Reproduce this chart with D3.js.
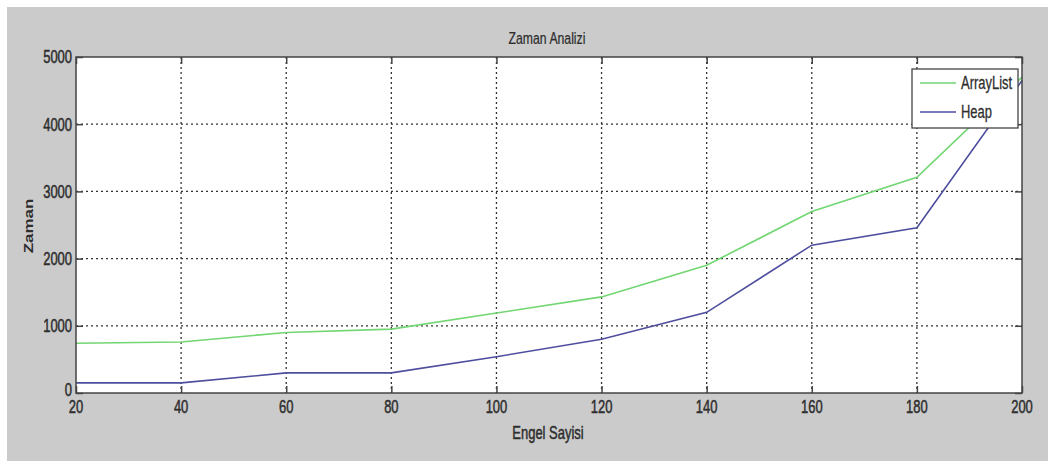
<!DOCTYPE html>
<html><head><meta charset="utf-8">
<script src="https://cdn.jsdelivr.net/npm/d3@7"></script>
<style>
html,body{margin:0;padding:0;background:#fff;}
svg{display:block;}
text{font-family:"Liberation Sans",Arial,sans-serif;fill:#2e2e2e;}
</style></head>
<body>
<svg id="chart" width="1048" height="461"></svg>
<script>
const xValues = [20, 40, 60, 80, 100, 120, 140, 160, 180, 200];
const arrayListValues = [740, 760, 900, 950, 1190, 1430, 1900, 2700, 3210, 4700];
const heapValues = [150, 150, 300, 300, 540, 800, 1200, 2200, 2460, 4650];
const xTicks = [20, 40, 60, 80, 100, 120, 140, 160, 180, 200];
const yTicks = [0, 1000, 2000, 3000, 4000, 5000];
const seriesNames = ["ArrayList", "Heap"];
const seriesColors = ["#72d672", "#4e4e9e"];
const titleText = "Zaman Analizi";
const xLabel = "Engel Sayisi";
const yLabel = "Zaman";

const svg = d3.select("#chart");
const W = 1048, H = 461;
const m = {left: 76, top: 57, right: 1022, bottom: 393};
const SX = 0.72;

svg.append("rect").attr("x", 7).attr("y", 7).attr("width", W - 7).attr("height", H - 7).attr("fill", "#cbcbcb");

const x = d3.scaleLinear().domain([20, 200]).range([m.left, m.right]);
const y = d3.scaleLinear().domain([0, 5000]).range([m.bottom, m.top]);

svg.append("rect").attr("x", m.left).attr("y", m.top).attr("width", m.right - m.left).attr("height", m.bottom - m.top).attr("fill", "#fff");

// squeezed text helper
function label(px, py, str, anchor, size, weight, rot, strokeW) {
  const g = svg.append("g").attr("transform", `translate(${px},${py}) scale(${SX},1)` + (rot ? ` rotate(${rot})` : ""));
  g.append("text").attr("text-anchor", anchor).attr("dominant-baseline", "central")
    .style("font-size", size + "px").style("font-weight", weight || "normal")
    .attr("stroke", "#2e2e2e").attr("stroke-width", strokeW || 0).text(str);
  return g;
}

// grid
const grid = svg.append("g").attr("stroke", "#333").attr("stroke-width", 1.3).attr("stroke-dasharray", "2,3");
grid.selectAll("line.vx").data(xTicks.slice(1, -1)).join("line")
  .attr("x1", d => x(d)).attr("x2", d => x(d)).attr("y1", m.top).attr("y2", m.bottom);
grid.selectAll("line.hy").data(yTicks.slice(1, -1)).join("line")
  .attr("y1", d => y(d)).attr("y2", d => y(d)).attr("x1", m.left).attr("x2", m.right);

// lines
const series = [arrayListValues, heapValues];
const line = d3.line().x((d, i) => x(xValues[i])).y(d => y(d));
series.forEach((s, i) => {
  svg.append("path").datum(s).attr("d", line).attr("fill", "none")
    .attr("stroke", seriesColors[i]).attr("stroke-width", 1.6);
});

// axes with inward ticks (tick marks only; labels drawn squeezed)
const tickLen = 7;
function style(g) {
  g.select(".domain").remove();
  g.selectAll(".tick line").attr("stroke", "#444").attr("stroke-width", 1.5);
  g.selectAll(".tick text").remove();
}
svg.append("g").attr("transform", `translate(0,${m.bottom})`).call(d3.axisBottom(x).tickValues(xTicks).tickSize(-tickLen)).call(style);
svg.append("g").attr("transform", `translate(0,${m.top})`).call(d3.axisTop(x).tickValues(xTicks).tickSize(-tickLen)).call(style);
svg.append("g").attr("transform", `translate(${m.left},0)`).call(d3.axisLeft(y).tickValues(yTicks).tickSize(-tickLen)).call(style);
svg.append("g").attr("transform", `translate(${m.right},0)`).call(d3.axisRight(y).tickValues(yTicks).tickSize(-tickLen)).call(style);

xTicks.forEach(t => label(x(t), 407, String(t), "middle", 18, "normal", 0, 0.5));
yTicks.forEach(t => label(m.left - 4, t === 0 ? y(t) - 3 : y(t), String(t), "end", 18, "normal", 0, 0.5));

// frame
svg.append("rect").attr("x", m.left).attr("y", m.top).attr("width", m.right - m.left).attr("height", m.bottom - m.top)
  .attr("fill", "none").attr("stroke", "#444").attr("stroke-width", 1.5);

// title and labels
label(547, 38, titleText, "middle", 17, "normal", 0, 0.25);
label(548, 433, xLabel, "middle", 18, "normal", 0, 0.5);
label(29, 226, yLabel, "middle", 17, "bold", -90);

// legend
const lg = svg.append("g");
lg.append("rect").attr("x", 912).attr("y", 69).attr("width", 106).attr("height", 59).attr("fill", "#fff").attr("stroke", "#444").attr("stroke-width", 1.3);
seriesNames.forEach((n, i) => {
  const yy = 83 + i * 29;
  lg.append("line").attr("x1", 920).attr("x2", 956).attr("y1", yy).attr("y2", yy).attr("stroke", seriesColors[i]).attr("stroke-width", 1.6);
  label(961, yy, n, "start", 18, "normal", 0, 0.3);
});
</script>
</body></html>
